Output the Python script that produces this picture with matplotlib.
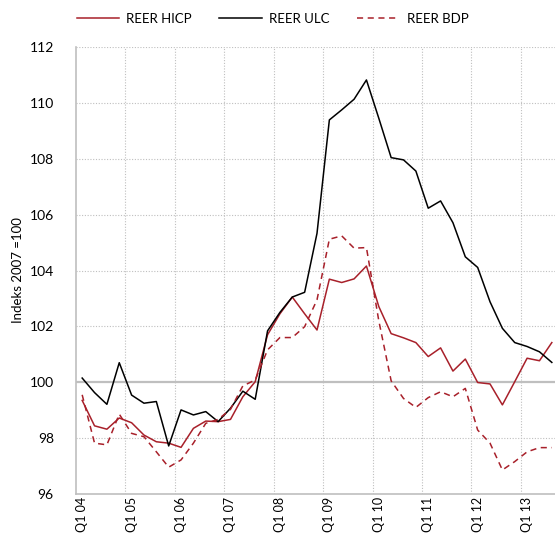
import matplotlib
matplotlib.use("Agg")
import matplotlib.pyplot as plt
import numpy as np

plt.rcParams['font.family'] = ['Lato', 'DejaVu Sans']

years = ["04", "05", "06", "07", "08", "09", "10", "11", "12", "13"]
tick_labels = ["Q1 " + y for y in years]

reer_ulc = [100.15, 99.63, 99.21, 100.70, 99.54, 99.25, 99.31, 97.72, 99.01, 98.83,
            98.95, 98.59, 99.07, 99.68, 99.39, 101.84, 102.50, 103.05, 103.22, 105.33,
            109.39, 109.75, 110.13, 110.82, 109.45, 108.04, 107.96, 107.56, 106.23, 106.49,
            105.71, 104.49, 104.11, 102.88, 101.93, 101.42, 101.28, 101.09, 100.71]
reer_hicp = [99.35, 98.44, 98.32, 98.72, 98.55, 98.11, 97.87, 97.82, 97.67, 98.35,
             98.61, 98.59, 98.67, 99.48, 100.02, 101.70, 102.45, 103.05, 102.45, 101.87,
             103.69, 103.57, 103.70, 104.16, 102.71, 101.74, 101.59, 101.42, 100.92, 101.23,
             100.40, 100.83, 99.99, 99.94, 99.19, 100.02, 100.86, 100.77, 101.42]
reer_bdp = [99.55, 97.82, 97.76, 98.86, 98.17, 98.05, 97.51, 96.96, 97.22, 97.82,
            98.53, 98.67, 99.03, 99.87, 100.08, 101.16, 101.60, 101.60, 101.99, 102.95,
            105.12, 105.24, 104.80, 104.82, 102.20, 100.05, 99.42, 99.10, 99.45, 99.66,
            99.48, 99.78, 98.29, 97.82, 96.86, 97.16, 97.51, 97.66, 97.66]

n = len(reer_ulc)
x = np.arange(n)
red = "#A8202A"
grid_c = "#BFBFBF"

fig = plt.figure(figsize=(5.55, 5.36), dpi=100)
ax = fig.add_axes([76/555, 1-494/536, 482/555, 447/536])

ax.set_xlim(-0.5, n - 0.5)
ax.set_ylim(96, 112)

# gridlines
for yv in range(98, 113, 2):
    if yv == 100:
        ax.axhline(yv, color=grid_c, lw=1.6, zorder=1)
    else:
        ax.axhline(yv, color=grid_c, lw=0.8, ls=(0, (1, 1.5)), zorder=1)
for xv in np.arange(3.5, n, 4):
    ax.axvline(xv, color=grid_c, lw=0.8, ls=(0, (1, 1.5)), zorder=1)

l1, = ax.plot(x, reer_hicp, color=red, lw=1.1, zorder=3, label="REER HICP")
l2, = ax.plot(x, reer_ulc, color="black", lw=1.1, zorder=3, label="REER ULC")
l3, = ax.plot(x, reer_bdp, color=red, lw=1.1, ls=(0, (4, 3)), zorder=3, label="REER BDP")

for s in ["top", "right"]:
    ax.spines[s].set_visible(False)
ax.spines["left"].set_color(grid_c)
ax.spines["left"].set_linewidth(1.2)
ax.spines["bottom"].set_color(grid_c)
ax.spines["bottom"].set_linewidth(1.2)

ax.set_yticks(range(96, 113, 2))
ax.set_yticklabels([str(v) for v in range(96, 113, 2)], fontsize=10)
ax.set_xticks(x[::4])
ax.set_xticklabels(tick_labels, rotation=90, fontsize=9)
ax.tick_params(axis="y", length=0, pad=16)
ax.tick_params(axis="x", length=0, pad=2)
ax.set_ylabel("Indeks 2007 =100", fontsize=9.5, labelpad=4)

fig.legend(handles=[l1, l2, l3], loc="center", bbox_to_anchor=(0.491, 1-19/536),
           ncol=3, frameon=False, fontsize=9.5, handlelength=3.2,
           columnspacing=2.1, handletextpad=0.55)

fig.savefig("out.png", dpi=100)
